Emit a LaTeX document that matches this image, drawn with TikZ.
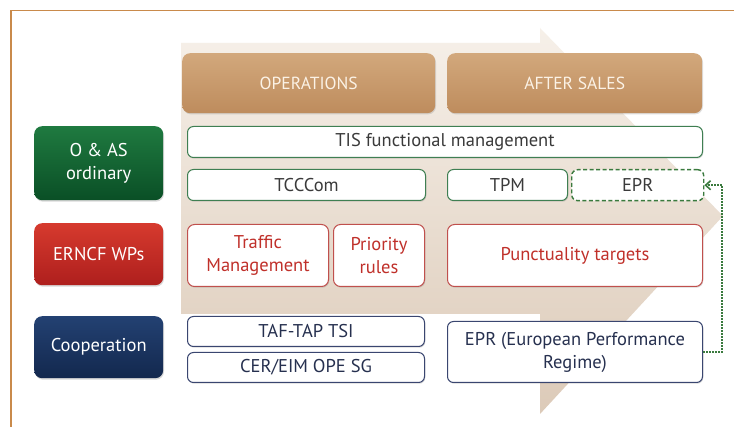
\documentclass[tikz,border=0pt]{standalone}
\usepackage{fontspec}
\setmainfont{PT Sans}
\usetikzlibrary{shadows,arrows.meta}
\definecolor{frameC}{HTML}{C98A4B}
\definecolor{hdrTop}{HTML}{D2A87C}
\definecolor{hdrBot}{HTML}{BE8C5D}
\definecolor{hdrTxt}{HTML}{FBF2E6}
\definecolor{bgTop}{HTML}{F6F0E9}
\definecolor{bgBot}{HTML}{DCCAB8}
\definecolor{grnTop}{HTML}{1F7A40}
\definecolor{grnBot}{HTML}{0A4F26}
\definecolor{redTop}{HTML}{D63A2E}
\definecolor{redBot}{HTML}{AE1F1D}
\definecolor{navTop}{HTML}{234172}
\definecolor{navBot}{HTML}{13284E}
\definecolor{grnLine}{HTML}{3F7F52}
\definecolor{redLine}{HTML}{C0504D}
\definecolor{navLine}{HTML}{3A4670}
\definecolor{txtGray}{HTML}{3A3A3A}
\definecolor{txtRed}{HTML}{C0302A}
\definecolor{txtNav}{HTML}{26304F}
\definecolor{dotGrn}{HTML}{3A7A3E}
\tikzset{
  every node/.style={font=\fontsize{18.5}{23}\selectfont, inner sep=0pt, align=center},
  hdr/.style={rounded corners=8pt, top color=hdrTop, bottom color=hdrBot, draw=none, text=hdrTxt, anchor=north west,
    font=\fontsize{17.5}{21}\selectfont,
    drop shadow={opacity=0.25, shadow xshift=0.8pt, shadow yshift=-1.2pt}},
  lbl/.style={rounded corners=8pt, draw=none, text=white, anchor=north west,
    drop shadow={opacity=0.3, shadow xshift=0.8pt, shadow yshift=-1.5pt}},
  gbox/.style={rounded corners=6pt, fill=white, draw=grnLine, line width=1pt, text=txtGray, anchor=north west,
    drop shadow={opacity=0.3, shadow xshift=0.8pt, shadow yshift=-1.2pt}},
  rbox/.style={rounded corners=7pt, fill=white, draw=redLine, line width=1pt, text=txtRed, anchor=north west,
    drop shadow={opacity=0.3, shadow xshift=0.8pt, shadow yshift=-1.2pt}},
  nbox/.style={rounded corners=6pt, fill=white, draw=navLine, line width=1pt, text=txtNav, anchor=north west,
    drop shadow={opacity=0.3, shadow xshift=0.8pt, shadow yshift=-1.2pt}},
  dbox/.style={rounded corners=6pt, fill=white, draw=dotGrn, line width=1.4pt, dash pattern=on 4pt off 2.5pt, text=txtGray, anchor=north west},
  link/.style={draw=dotGrn, line width=1.8pt, dash pattern=on 1.6pt off 1.4pt, -{Straight Barb[length=5pt,width=9pt,line width=1.6pt]}}
}
\begin{document}
\begin{tikzpicture}[x=1pt,y=-1pt]
\useasboundingbox (0,0) rectangle (734,427);
\fill[white] (0,0) rectangle (734,427);
% frame
\draw[frameC, line width=1.5pt] (11,427) -- (11,10.5) -- (734,10.5);
% background arrow
\shade[top color=bgTop, bottom color=bgBot] (181,43) -- (540,43) -- (540,28) -- (723,216) -- (540,414) -- (540,314) -- (181,314) -- cycle;
% headers
\node[hdr, minimum width=253, minimum height=60] (ops) at (182,53) {OPERATIONS};
\node[hdr, minimum width=255, minimum height=60] (aft) at (447,53) {AFTER SALES};
% left labels
\node[lbl, top color=grnTop, bottom color=grnBot, minimum width=129, minimum height=74] (oas) at (34,126) {O \& AS\\ordinary};
\node[lbl, top color=redTop, bottom color=redBot, minimum width=129, minimum height=62] (ern) at (34,223) {ERNCF WPs};
\node[lbl, top color=navTop, bottom color=navBot, minimum width=129, minimum height=62] (coop) at (34,316) {Cooperation};
% green row
\node[gbox, minimum width=515, minimum height=31] (tis) at (187,126) {TIS functional management};
\node[gbox, minimum width=238, minimum height=31] (tcc) at (187,169) {TCCCom};
\node[gbox, minimum width=120, minimum height=31] (tpm) at (447,169) {TPM};
\node[dbox, minimum width=132, minimum height=31] (epr) at (571,169) {EPR};
% red row
\node[rbox, minimum width=141, minimum height=62] (traf) at (187,224) {Traffic\\Management};
\node[rbox, minimum width=91, minimum height=62] (prio) at (333,224) {Priority\\rules};
\node[rbox, minimum width=255, minimum height=62] (punc) at (447,224) {Punctuality targets};
% cooperation row
\node[nbox, minimum width=237, minimum height=30] (taf) at (187,316) {TAF-TAP TSI};
\node[nbox, minimum width=237, minimum height=30] (cer) at (187,352) {CER/EIM OPE SG};
\node[nbox, minimum width=255, minimum height=61] (eprl) at (447,321) {EPR (European Performance\\Regime)};
% link
\draw[link] (eprl.east) -- ++(19,0) |- (epr.east);
\end{tikzpicture}
\end{document}
